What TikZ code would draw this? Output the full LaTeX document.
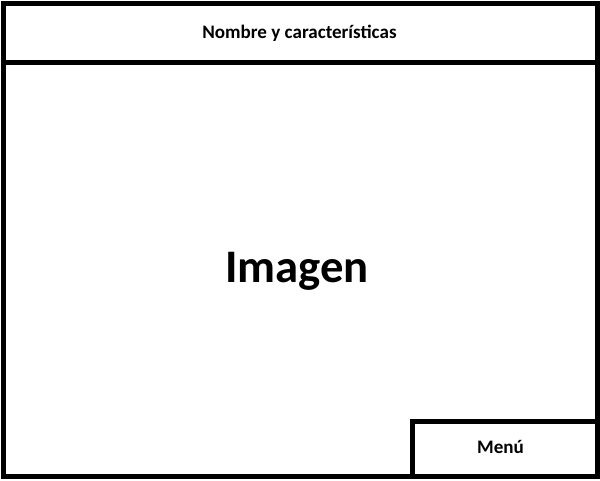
\documentclass[tikz,border=0pt]{standalone}
\usepackage{fontspec}
\setmainfont{Carlito}
\tikzset{
  frameline/.style={draw=black, line width=3.75pt, line join=miter},
  smalltext/.style={font=\bfseries\fontsize{14.3}{17}\selectfont, anchor=base, inner sep=0pt},
  bigtext/.style={font=\bfseries\fontsize{35}{42}\selectfont, anchor=base, inner sep=0pt}
}
\begin{document}
\begin{tikzpicture}[x=0.75pt, y=-0.75pt]
  \useasboundingbox (0,0) rectangle (600,480);
  \fill[white] (0,0) rectangle (600,480);
  % outer frame
  \draw[frameline] (3.5,3.5) rectangle (597.5,476.5);
  % title divider
  \draw[frameline] (3.5,62.5) -- (597.5,62.5);
  % menu box
  \draw[frameline] (412.5,476.5) -- (412.5,421.5) -- (597.5,421.5);
  \node[smalltext] (title) at (299.5,38) {Nombre y características};
  \node[bigtext] (imagen) at (297,282) {Imagen};
  \node[smalltext] (menu) at (500.5,453) {Menú};
\end{tikzpicture}
\end{document}
